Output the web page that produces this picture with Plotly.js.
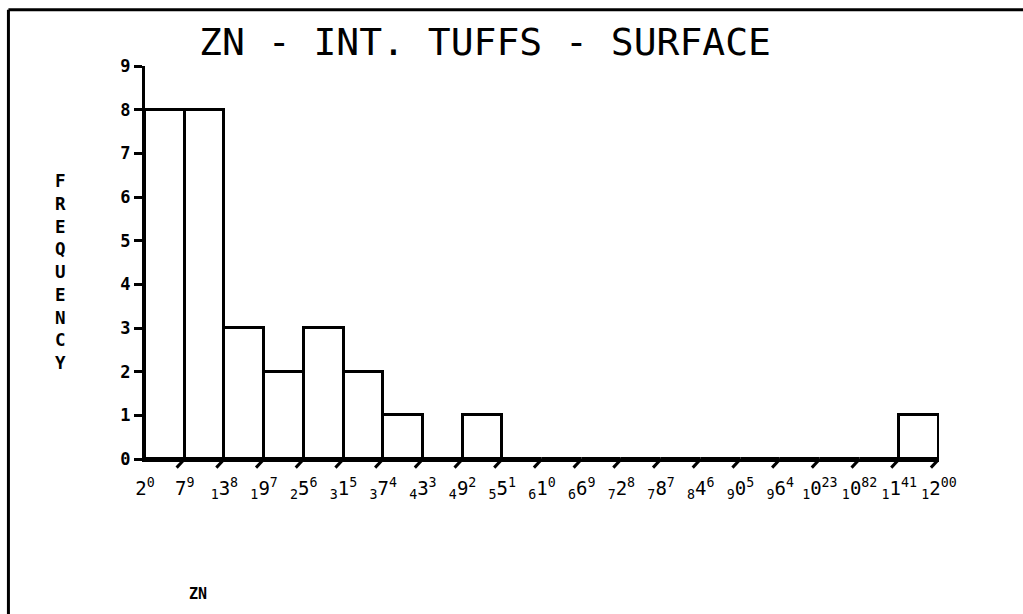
<!DOCTYPE html>
<html>
<head>
<meta charset="utf-8">
<script src="https://cdn.plot.ly/plotly-3.0.1.min.js"></script>
<style>
  html, body { margin: 0; padding: 0; background: #fff; }
  #chart { width: 1023px; height: 614px; }
</style>
</head>
<body>
<div id="chart"></div>
<script>
// ---- data ----
const binEdges = [20, 79, 138, 197, 256, 315, 374, 433, 492, 551, 610, 669, 728, 787, 846, 905, 964, 1023, 1082, 1141, 1200];
const counts   = [8, 8, 3, 2, 3, 2, 1, 0, 1, 0, 0, 0, 0, 0, 0, 0, 0, 0, 0, 1];
const yTicks   = [0, 1, 2, 3, 4, 5, 6, 7, 8, 9];
const titleText = 'ZN - INT. TUFFS - SURFACE';
const xTitle = 'ZN';
const yTitle = 'FREQUENCY';

// ---- derived ----
const centers = counts.map((c, i) => (binEdges[i] + binEdges[i + 1]) / 2);
const widths = counts.map((c, i) => binEdges[i + 1] - binEdges[i]);

// plotter-style "stair" labels: leading digit low, trailing digit raised
function stairLabel(n) {
  const s = String(n);
  if (s.length === 2) return s[0] + '<sup>' + s[1] + '</sup>';
  if (s.length === 3) return '<sub>' + s[0] + '</sub>' + s[1] + '<sup>' + s[2] + '</sup>';
  return '<sub>' + s[0] + '</sub>' + s[1] + '<sup>' + s.slice(2) + '</sup>';
}
const tickText = binEdges.map(stairLabel);

const mono = 'DejaVu Sans Mono, Liberation Mono, monospace';

// slanted tick marks under the x axis, one per bin edge
const slantTicks = binEdges.map(e => ({
  type: 'line', xref: 'x', yref: 'paper',
  x0: e, y0: 0, x1: e - 12, y1: -0.022,
  line: { color: '#000', width: 3 }
}));

// frame (left and top border lines)
const frame = [
  { type: 'line', xref: 'paper', yref: 'paper', x0: -0.172, y0: 1.143, x1: 1.2, y1: 1.143, line: { color: '#000', width: 3 } },
  { type: 'line', xref: 'paper', yref: 'paper', x0: -0.172, y0: 1.143, x1: -0.172, y1: -0.4, line: { color: '#000', width: 3 } }
];

const trace = {
  type: 'bar',
  x: centers,
  y: counts,
  width: widths,
  marker: { color: '#fff', line: { color: '#000', width: 3 } },
  hoverinfo: 'x+y'
};

const layout = {
  width: 1023, height: 614,
  margin: { l: 145, r: 84, t: 66, b: 155 },
  paper_bgcolor: '#fff', plot_bgcolor: '#fff',
  showlegend: false,
  bargap: 0,
  title: {
    text: titleText,
    x: 485 / 1023, xanchor: 'center', xref: 'container',
    y: 1 - 42 / 614, yanchor: 'middle', yref: 'container',
    font: { family: mono, size: 38, color: '#000' }
  },
  xaxis: {
    range: [20, 1200],
    showgrid: false, zeroline: false,
    showline: true, linecolor: '#000', linewidth: 3,
    tickmode: 'array', tickvals: binEdges, ticktext: tickText,
    ticks: '', ticklabelstandoff: 10,
    tickfont: { family: mono, size: 19, color: '#000' },
    fixedrange: true
  },
  yaxis: {
    range: [0, 9],
    showgrid: false, zeroline: false,
    showline: true, linecolor: '#000', linewidth: 3,
    tickmode: 'array', tickvals: yTicks, ticktext: yTicks.map(String),
    ticks: 'outside', ticklen: 8, tickwidth: 3, tickcolor: '#000',
    tickfont: { family: mono, size: 17, color: '#000', weight: 'bold' },
    fixedrange: true
  },
  shapes: frame.concat(slantTicks),
  annotations: [
    {
      text: yTitle.split('').join('<br>'),
      xref: 'paper', yref: 'paper',
      x: (60 - 145) / 794, y: (459.5 - 272) / 394,
      xanchor: 'center', yanchor: 'middle',
      showarrow: false, align: 'center',
      font: { family: mono, size: 17.5, color: '#000', weight: 'bold' }
    },
    {
      text: xTitle,
      xref: 'paper', yref: 'paper',
      x: (198 - 145) / 794, y: (459.5 - 595) / 394,
      xanchor: 'center', yanchor: 'middle',
      showarrow: false,
      font: { family: mono, size: 15, color: '#000', weight: 'bold' }
    }
  ]
};

Plotly.newPlot('chart', [trace], layout, { displayModeBar: false });
</script>
</body>
</html>
